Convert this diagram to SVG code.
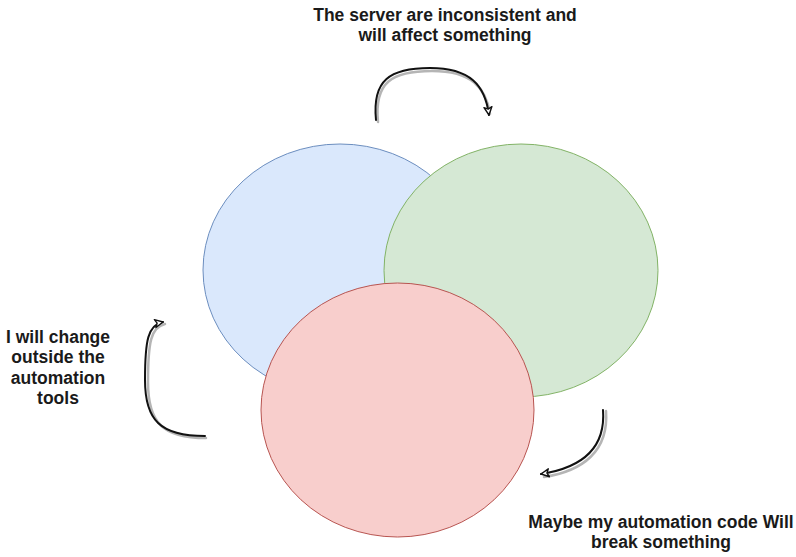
<svg xmlns="http://www.w3.org/2000/svg" width="796" height="557" viewBox="0 0 796 557">
  <style>
    .lbl { font-family: "Liberation Sans", Arial, sans-serif; font-weight: bold; font-size: 17.5px; fill: #1a1a1a; text-anchor: middle; }
    .arc { fill: none; stroke: #111; stroke-width: 2; stroke-linecap: round; }
    .arc-shadow { fill: none; stroke: #b5b5b5; stroke-width: 2.5; stroke-linecap: round; }
  </style>
  <defs>
    <marker id="head" viewBox="0 0 10 10" refX="9" refY="5" markerWidth="10" markerHeight="10" markerUnits="userSpaceOnUse" orient="auto">
      <path d="M1 1 L9 5 L1 9 L3 5 Z" fill="#fff" stroke="#111" stroke-width="1.4" stroke-linejoin="round"/>
    </marker>
  </defs>
  <rect width="796" height="557" fill="#fff"/>

  <g id="circle-blue">
    <ellipse cx="340" cy="270" rx="137" ry="126" fill="#dae8fc" stroke="#6c8ebf" stroke-width="1"/>
  </g>
  <g id="circle-green">
    <ellipse cx="521" cy="270.5" rx="137" ry="126.5" fill="#d5e8d4" stroke="#82b366" stroke-width="1"/>
  </g>
  <g id="circle-red">
    <ellipse cx="397.5" cy="410" rx="136.5" ry="127" fill="#f8cecc" stroke="#b85450" stroke-width="1"/>
  </g>

  <g id="connectors">
    <!-- top: curved arrow from left to right -->
    <path class="arc-shadow" d="M378 122 C 374 82, 392 71, 432 71 C 472 71, 486 88, 490 114"/>
    <path class="arc" d="M376 120 C 372 80, 390 68, 430 68 C 470 68, 485 85, 489 115" marker-end="url(#head)"/>
    <!-- left: curved arrow going up -->
    <path class="arc-shadow" d="M206 438 C 162 438, 148 422, 148 382 C 148 342, 151 327, 165 324"/>
    <path class="arc" d="M205 436 C 160 436, 145 420, 145 380 C 145 340, 148 325, 163 322" marker-end="url(#head)"/>
    <!-- right: curved arrow going down-left -->
    <path class="arc-shadow" d="M606 411 C 609 451, 583 471, 544 477"/>
    <path class="arc" d="M603 410 C 606 450, 580 468, 541 474" marker-end="url(#head)"/>
  </g>

  <g id="label-top">
    <text class="lbl" x="445" y="21">The server are inconsistent and</text>
    <text class="lbl" x="445" y="41">will affect something</text>
  </g>
  <g id="label-left">
    <text class="lbl" x="58" y="343">I will change</text>
    <text class="lbl" x="58" y="363">outside the</text>
    <text class="lbl" x="58" y="384">automation</text>
    <text class="lbl" x="58" y="404">tools</text>
  </g>
  <g id="label-bottom">
    <text class="lbl" x="661" y="528">Maybe my automation code Will</text>
    <text class="lbl" x="661" y="548">break something</text>
  </g>
</svg>
